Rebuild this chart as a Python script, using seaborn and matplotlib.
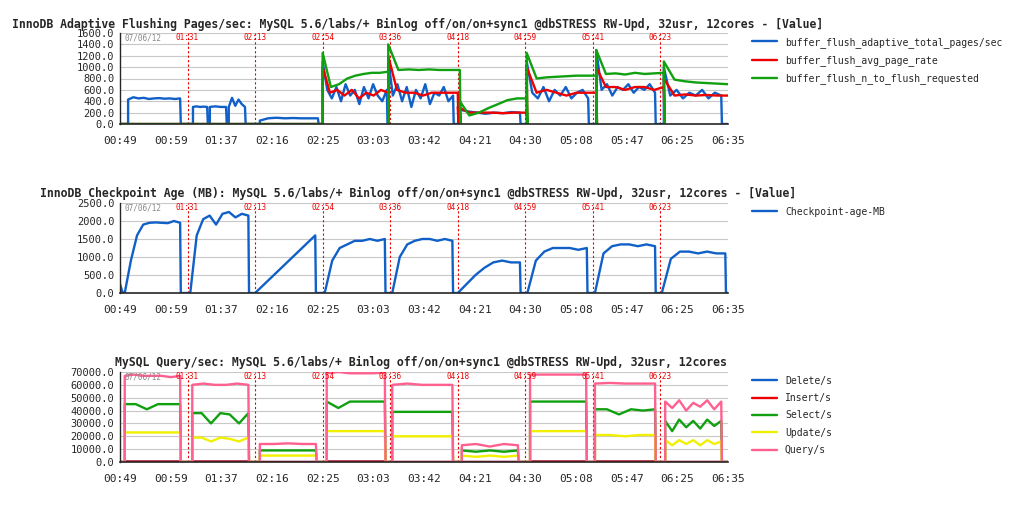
import numpy as np
import matplotlib
matplotlib.use("Agg")
import matplotlib.pyplot as plt
import seaborn as sns

sns.set_style("white")
plt.rcParams['font.family'] = ['DejaVu Sans Mono']

tick_labels = ["00:49","00:59","01:37","02:16","02:25","03:03","03:42","04:21","04:30","05:08","05:47","06:25","06:35"]
marker_labels = ["01:31","02:13","02:54","03:36","04:18","04:59","05:41","06:23"]
# run phases are measured in "marker periods" (9 periods across the axis)
marker_phase = [1, 2, 3, 4, 5, 6, 7, 8]

adaptive_runs = [(0.12,0.89,[430,470,450,460,440,450,455,445,450,440,450]),
                 (1.08,1.29,[300,310,300,305,300]),(1.33,1.57,[300,310,300,300]),
                 (1.61,1.85,[300,460,320,430,350,300]),(2.07,2.93,[60,100,110,100,105,100,100,100]),
                 (3.0,3.95,[1100,600,450,650,400,700,500,600,350,650,450,700,500,400,600]),
                 (3.97,4.93,[1150,500,700,400,650,300,600,450,700,350,550,500,650,400,500]),
                 (5.03,5.92,[250,220,200,180,200,190,210,200]),
                 (6.02,6.93,[1100,550,450,650,400,600,500,650,450,550,600,450]),
                 (7.05,7.92,[1300,600,700,500,650,600,700,550,650,600,700,550]),
                 (8.05,8.9,[1000,500,600,450,550,500,600,450,550,500])]
avg_runs = [(3.0,3.97,[1000,550,600,500,600,450,550,500,600,550]),
            (3.97,5.0,[1200,600,550,550,500,550,550,550,550]),
            (5.0,6.02,[300,200,200,200,190,200,200]),
            (6.02,7.05,[1000,550,600,550,500,550,550,550]),
            (7.05,8.05,[1000,650,650,600,650,650,600,650]),
            (8.05,9.0,[800,500,520,500,510,500,500])]
req_runs = [(3.0,3.97,[1250,650,700,800,850,880,900,900,920]),
            (3.97,5.03,[1400,950,960,950,960,950,950,950]),
            (5.03,6.02,[400,150,200,280,350,420,450,450]),
            (6.02,7.05,[1250,800,820,830,840,850,850,850]),
            (7.05,8.05,[1300,880,890,870,900,880,890,900]),
            (8.05,9.0,[1100,780,750,730,720,710,700])]
ckpt_runs = [(0.0,0.04,[250,0]),(0.07,0.89,[0,900,1600,1900,1950,1960,1950,1940,2000,1950]),
             (1.04,1.9,[0,1600,2050,2150,1900,2200,2250,2100,2200,2150]),
             (2.0,2.89,[0,200,400,600,800,1000,1200,1400,1600]),
             (3.03,3.92,[0,900,1250,1350,1450,1450,1500,1450,1500]),
             (4.03,4.92,[0,1000,1350,1450,1500,1500,1450,1500,1450]),
             (5.0,5.92,[0,250,500,700,850,900,850,850]),
             (6.03,6.91,[0,900,1150,1250,1250,1250,1200,1250]),
             (7.03,7.92,[0,1100,1300,1350,1350,1300,1350,1300]),
             (8.02,8.96,[0,950,1150,1150,1100,1150,1100,1100])]
query_runs = [(0.07,0.89,[67000,68000,67000,67000,67000,66000,67000]),
              (1.07,1.9,[60000,61000,60000,60000,61000,60000]),
              (2.07,2.9,[14000,14000,14500,14000,14000]),
              (3.06,3.92,[69000,70000,69000,69000,69000,69500]),
              (4.03,4.92,[60000,61000,60000,60000,60000]),
              (5.06,5.89,[13000,14000,12000,14000,13000]),
              (6.07,6.9,[68000,68000,68000,68000,68000]),
              (7.03,7.92,[61000,61500,61000,61000,61000]),
              (8.07,8.9,[47000,42000,48000,40000,46000,43000,48000,41000,47000])]
select_runs = [(0.07,0.89,[45000,45000,41000,45000,45000,45000]),
               (1.07,1.9,[38000,38000,30000,38000,37000,30000,38000]),
               (2.07,2.9,[9000,9000,9000,9000,9000]),
               (3.06,3.92,[47000,42000,47000,47000,47000,47000]),
               (4.03,4.92,[39000,39000,39000,39000,39000]),
               (5.06,5.89,[9000,8000,9000,8000,9000]),
               (6.07,6.9,[47000,47000,47000,47000,47000]),
               (7.03,7.92,[41000,41000,37000,41000,40000,41000]),
               (8.07,8.9,[32000,24000,33000,27000,32000,26000,33000,28000,32000])]
update_runs = [(0.07,0.89,[23000,23000,23000,23000,23000]),
               (1.07,1.9,[19000,19000,16000,19000,18000,16000,19000]),
               (2.07,2.9,[5000,5000,5000,5000,5000]),
               (3.06,3.92,[24000,24000,24000,24000,24000]),
               (4.03,4.92,[20000,20000,20000,20000,20000]),
               (5.06,5.89,[5000,4000,5000,4000,5000]),
               (6.07,6.9,[24000,24000,24000,24000,24000]),
               (7.03,7.92,[21000,21000,20000,21000,21000]),
               (8.07,8.9,[17000,13000,17000,14000,17000,13000,17000,14000,16000])]
small_runs = [(0.07,0.89,[300]),(1.07,1.9,[300]),(3.06,3.92,[300]),(6.07,6.9,[300]),(7.03,7.92,[300])]

SCALE = 12 / 9  # marker periods -> tick units

def build(runs):
    xs, ys = [0.0], [0.0]
    for s, e, vals in runs:
        if s > xs[-1]:
            xs.append(s); ys.append(0.0)
        if len(vals) == 1:
            vals = vals * 2
        for p, v in zip(np.linspace(s, e, len(vals)), vals):
            xs.append(p); ys.append(v)
        if e < 8.99:
            xs.append(e + 0.01); ys.append(0.0)
    xs.append(9.0); ys.append(ys[-1] if xs[-1] >= 8.99 else 0.0)
    return np.array(xs) * SCALE, np.array(ys)

fig = plt.figure(figsize=(10.1, 5.12), dpi=100)
W, H = 1010, 512
def mkax(top, bottom):
    return fig.add_axes([120/W, 1-bottom/H, 608/W, (bottom-top)/H])

panels = [
    (mkax(33,124), 12, 28, "InnoDB Adaptive Flushing Pages/sec: MySQL 5.6/labs/+ Binlog off/on/on+sync1 @dbSTRESS RW-Upd, 32usr, 12cores - [Value]",
     [("buffer_flush_adaptive_total_pages/sec", adaptive_runs, "#1060c8"),
      ("buffer_flush_avg_page_rate", avg_runs, "#ee0000"),
      ("buffer_flush_n_to_flush_requested", req_runs, "#10a010")], np.arange(0,1601,200)),
    (mkax(203,293), 40, 197, "InnoDB Checkpoint Age (MB): MySQL 5.6/labs/+ Binlog off/on/on+sync1 @dbSTRESS RW-Upd, 32usr, 12cores - [Value]",
     [("Checkpoint-age-MB", ckpt_runs, "#1060c8")], np.arange(0,2501,500)),
    (mkax(372,462), 115, 366, "MySQL Query/sec: MySQL 5.6/labs/+ Binlog off/on/on+sync1 @dbSTRESS RW-Upd, 32usr, 12cores",
     [("Delete/s", small_runs, "#1060c8"), ("Insert/s", small_runs, "#ee0000"),
      ("Select/s", select_runs, "#10a010"), ("Update/s", update_runs, "#f0f000"),
      ("Query/s", query_runs, "#ff6090")], np.arange(0,70001,10000)),
]

for ax, tx, ty, title, series, yt in panels:
    for yv in yt[1:]:
        ax.axhline(yv, color="#c8c8c8", lw=0.8, zorder=0)
    for name, runs, col in series:
        x, y = build(runs)
        sns.lineplot(x=x, y=y, ax=ax, color=col, lw=1.7, label=name, estimator=None, sort=False)
    ax.set_xlim(0, 12); ax.set_ylim(0, yt[-1])
    ax.set_yticks(yt); ax.set_yticklabels([f"{v:.1f}" for v in yt], fontsize=7.5)
    ax.set_xticks(np.arange(13)); ax.set_xticklabels(tick_labels, fontsize=8)
    ax.tick_params(axis='x', length=5, width=1, direction='out')
    ax.tick_params(axis='y', length=3, width=1, direction='out', pad=1)
    for s in ["top", "right"]:
        ax.spines[s].set_visible(False)
    ax.spines["left"].set_linewidth(1); ax.spines["bottom"].set_linewidth(1.2)
    for ph, lab in zip(marker_phase, marker_labels):
        xp = ph * SCALE
        ax.axvline(xp, color="#ee0000", lw=0.8, ls=(0, (2, 2)), zorder=1)
        ax.text(xp, yt[-1]*0.9, lab, color="#ee0000", fontsize=5.5, ha="center", va="bottom")
    ax.text(0.08, yt[-1]*0.995, "07/06/12", color="#888888", fontsize=5.5, ha="left", va="top")
    fig.text(tx/W, 1-ty/H, title, fontsize=8.3, fontweight="bold", ha="left", va="baseline")
    ax.legend(loc="upper left", bbox_to_anchor=(628/608, 1.0), borderaxespad=0, frameon=False,
              fontsize=7, handlelength=2.6, handletextpad=0.8, labelspacing=0.75)

fig.savefig("out.png", dpi=100)
